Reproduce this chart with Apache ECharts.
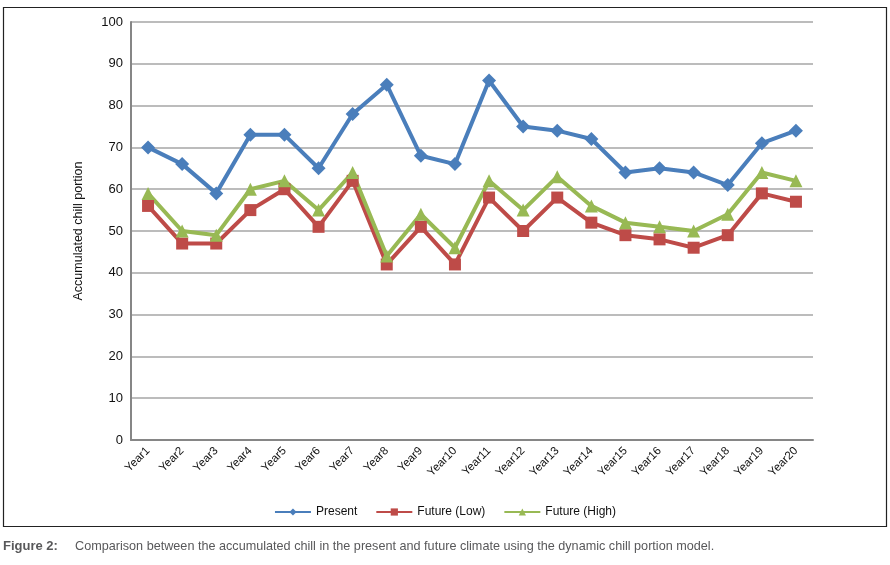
<!DOCTYPE html>
<html>
<head>
<meta charset="utf-8">
<script src="https://cdn.jsdelivr.net/npm/echarts@6/dist/echarts.min.js"></script>
<style>
html,body{margin:0;padding:0;background:#fff;}
#c{width:890px;height:565px;}
</style>
</head>
<body>
<div id="c"></div>
<script>
var categories = ["Year1","Year2","Year3","Year4","Year5","Year6","Year7","Year8","Year9","Year10","Year11","Year12","Year13","Year14","Year15","Year16","Year17","Year18","Year19","Year20"];
var present = [70,66,59,73,73,65,78,85,68,66,86,75,74,72,64,65,64,61,71,74];
var futureLow = [56,47,47,55,60,51,62,42,51,42,58,50,58,52,49,48,46,49,59,57];
var futureHigh = [59,50,49,60,62,55,64,44,54,46,62,55,63,56,52,51,50,54,64,62];
var yTicks = [0,10,20,30,40,50,60,70,80,90,100];

var FONT = '"Liberation Sans Narrow","Arial Narrow","Liberation Sans",sans-serif';
var chart = echarts.init(document.getElementById('c'));
function ser(name, data, color, symbol, size) {
  return {
    name: name, type: 'line', data: data, symbol: symbol, symbolSize: size,
    lineStyle: {color: color, width: 4}, itemStyle: {color: color},
    emphasis: {disabled: true}
  };
}
chart.setOption({
  animation: false,
  textStyle: {fontFamily: FONT},
  grid: {left: 131, right: 77, top: 22, bottom: 125, containLabel: false},
  legend: {
    bottom: 42, left: 'center', itemWidth: 36, itemHeight: 9, itemGap: 18,
    textStyle: {fontFamily: FONT, fontSize: 12, color: '#111'},
    data: ['Present','Future (Low)','Future (High)']
  },
  xAxis: {
    type: 'category', data: categories, boundaryGap: true,
    axisLine: {lineStyle: {color: '#868686', width: 2}},
    axisTick: {show: false},
    axisLabel: {rotate: 45, fontSize: 11.5, color: '#111', fontFamily: FONT, margin: 9}
  },
  yAxis: {
    type: 'value', min: yTicks[0], max: yTicks[yTicks.length-1], interval: 10,
    name: 'Accumulated chill portion', nameLocation: 'middle', nameGap: 46,
    nameTextStyle: {fontSize: 12.5, color: '#111', fontFamily: FONT},
    axisLine: {show: true, lineStyle: {color: '#868686', width: 2}},
    axisTick: {show: false},
    axisLabel: {fontSize: 13, color: '#111', fontFamily: FONT, margin: 8},
    splitLine: {lineStyle: {color: '#a6a6a6', width: 1.5}}
  },
  series: [
    ser('Present', present, '#4a7ebb', 'diamond', 14),
    ser('Future (Low)', futureLow, '#be4b48', 'rect', 12),
    ser('Future (High)', futureHigh, '#98b954', 'triangle', 13)
  ],
  graphic: [
    {type: 'rect', shape: {x: 3.5, y: 7.5, width: 883, height: 519}, style: {fill: null, stroke: '#222', lineWidth: 1.2}, silent: true, z: -1},
    {type: 'text', x: 3, y: 540, style: {text: 'Figure 2:', font: 'bold 13px ' + FONT, fill: '#58585a'}},
    {type: 'text', x: 75, y: 540, scaleX: 0.972, style: {text: 'Comparison between the accumulated chill in the present and future climate using the dynamic chill portion model.', font: '13px ' + FONT, fill: '#58585a'}}
  ]
});
</script>
</body>
</html>
